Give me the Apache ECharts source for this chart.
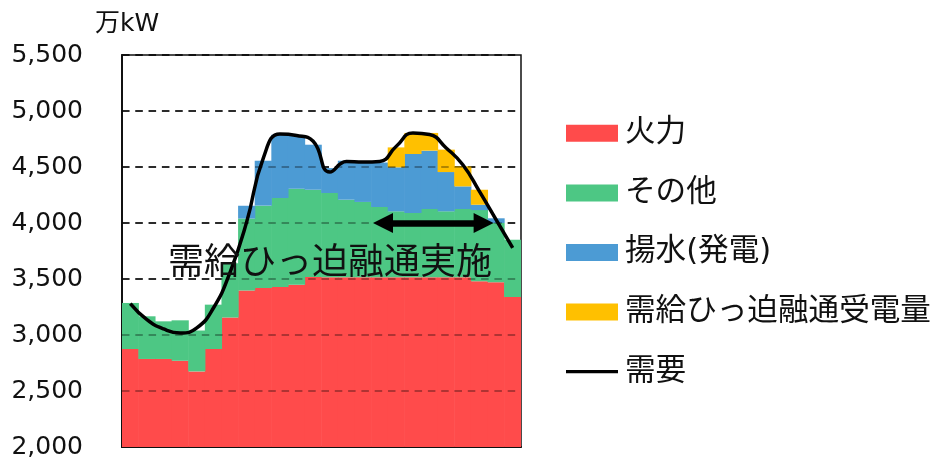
<!DOCTYPE html>
<html>
<head>
<meta charset="utf-8">
<script src="https://cdn.jsdelivr.net/npm/echarts@6/dist/echarts.min.js"></script>
<style>
  html, body { margin: 0; padding: 0; background: #fff; }
  #chart { width: 935px; height: 458px; }
</style>
</head>
<body>
<div id="chart"></div>
<script>
// Hourly supply stack (万kW) and demand curve
const hours = ['1','2','3','4','5','6','7','8','9','10','11','12','13','14','15','16','17','18','19','20','21','22','23','24'];
const thermal     = [2875, 2786, 2786, 2770, 2675, 2875, 3157, 3398, 3420, 3429, 3449, 3518, 3515, 3515, 3515, 3515, 3515, 3515, 3515, 3515, 3515, 3479, 3470, 3339];
const other       = [411, 381, 336, 361, 365, 396, 483, 642, 735, 794, 857, 779, 753, 693, 673, 628, 589, 574, 610, 589, 610, 636, 530, 512];
const pumped      = [0, 0, 0, 0, 0, 0, 0, 114, 401, 566, 476, 402, 222, 348, 357, 397, 393, 527, 521, 351, 202, 48, 42, 0];
const interchange = [0, 0, 0, 0, 0, 0, 0, 0, 0, 0, 0, 0, 0, 0, 0, 0, 178, 188, 158, 200, 179, 134, 0, 0];
const demand      = [3281, 3137, 3054, 3018, 3063, 3241, 3560, 4010, 4580, 4795, 4782, 4730, 4455, 4550, 4545, 4550, 4685, 4804, 4790, 4670, 4520, 4282, 4030, 3777];
const yTicks = [2000, 2500, 3000, 3500, 4000, 4500, 5000, 5500];

// Interchange period marker (hour position on a continuous 0–24 scale)
const arrowSpan = [15.7, 21.75];
const arrowLevel = 4000;

const FONT = '"DejaVu Sans", "Noto Sans CJK JP", sans-serif';
const DASH = [7.5, 5.8];

const chart = echarts.init(document.getElementById('chart'), null, { renderer: 'canvas' });

function barSeries(name, data, color) {
  return {
    name: name,
    type: 'bar',
    stack: 'supply',
    data: data,
    barWidth: 17.2,
    itemStyle: { color: color, borderWidth: 0 },
    emphasis: { disabled: true },
    animation: false
  };
}

const option = {
  animation: false,
  grid: {
    left: 122, right: 414, top: 55, bottom: 11,
    containLabel: false,
    outerBoundsMode: 'none',
    show: true,
    borderColor: '#111',
    borderWidth: 1.5,
    backgroundColor: 'transparent'
  },
  legend: {
    orient: 'vertical',
    left: 566,
    top: 118,
    padding: 0,
    itemWidth: 52,
    itemHeight: 17,
    itemGap: 29,
    icon: 'rect',
    textStyle: { fontFamily: FONT, fontSize: 30.6, color: '#111', lineHeight: 30.6, padding: [0, 0, 0, 2] },
    data: [
      { name: '火力' },
      { name: 'その他' },
      { name: '揚水(発電)' },
      { name: '需給ひっ迫融通受電量' },
      { name: '需要', icon: 'path://M0,0 L52,0 L52,3.2 L0,3.2 Z', itemStyle: { color: '#000' } }
    ],
    selectedMode: false
  },
  xAxis: [
    {
      type: 'category',
      data: hours,
      boundaryGap: true,
      axisLine: { show: true, lineStyle: { color: '#111', width: 2 } },
      axisTick: { show: false },
      axisLabel: { show: false },
      splitLine: { show: false }
    },
    {
      type: 'value',
      min: 0, max: 24,
      show: false
    }
  ],
  yAxis: {
    type: 'value',
    min: yTicks[0],
    max: yTicks[yTicks.length - 1],
    interval: 500,
    name: '万kW',
    nameLocation: 'end',
    nameGap: 18,
    nameTextStyle: { fontFamily: FONT, fontSize: 25, color: '#111', align: 'left', padding: [0, 0, 0, -27] },
    axisLine: { show: true, lineStyle: { color: '#111', width: 2 } },
    axisTick: { show: false },
    axisLabel: {
      fontFamily: FONT, fontSize: 25, color: '#111', margin: 39,
      formatter: v => v.toLocaleString('en-US')
    },
    splitLine: { show: true, lineStyle: { color: '#000', width: 1.5, type: DASH } }
  },
  series: [
    barSeries('火力', thermal, '#FF4B4B'),
    barSeries('その他', other, '#4DC784'),
    barSeries('揚水(発電)', pumped, '#4C9BD4'),
    barSeries('需給ひっ迫融通受電量', interchange, '#FFC000'),
    {
      // dashed grid levels drawn again over the filled areas
      name: 'grid-overlay',
      type: 'line',
      data: [],
      silent: true,
      z: 3,
      markLine: {
        silent: true,
        symbol: ['none', 'none'],
        label: { show: false },
        lineStyle: { color: 'rgba(0,0,0,0.42)', width: 1.5, type: DASH },
        data: yTicks.slice(1, -1).map(v => ({ yAxis: v })),
        animation: false
      }
    },
    {
      name: '需要',
      type: 'line',
      data: demand,
      smooth: 0.5,
      symbol: 'none',
      z: 5,
      lineStyle: { color: '#000', width: 3.5 },
      itemStyle: { color: '#000' },
      emphasis: { disabled: true }
    },
    {
      // double-headed arrow marking the interchange period
      name: 'period-arrow',
      type: 'line',
      xAxisIndex: 1,
      data: [],
      silent: true,
      z: 6,
      markLine: {
        silent: true,
        symbol: ['triangle', 'triangle'],
        symbolSize: [20, 20],
        label: { show: false },
        lineStyle: { color: '#000', width: 6.5, type: 'solid' },
        itemStyle: { color: '#000' },
        data: [[{ coord: [arrowSpan[0], arrowLevel] }, { coord: [arrowSpan[1], arrowLevel] }]],
        animation: false
      }
    }
  ],
  graphic: [
    {
      type: 'text',
      z: 100,
      style: {
        text: '需給ひっ迫融通実施',
        x: 330, y: 260,
        textAlign: 'center',
        textVerticalAlign: 'middle',
        font: '36px "Noto Sans CJK JP", sans-serif',
        fill: '#111'
      }
    }
  ]
};

chart.setOption(option);
</script>
</body>
</html>
